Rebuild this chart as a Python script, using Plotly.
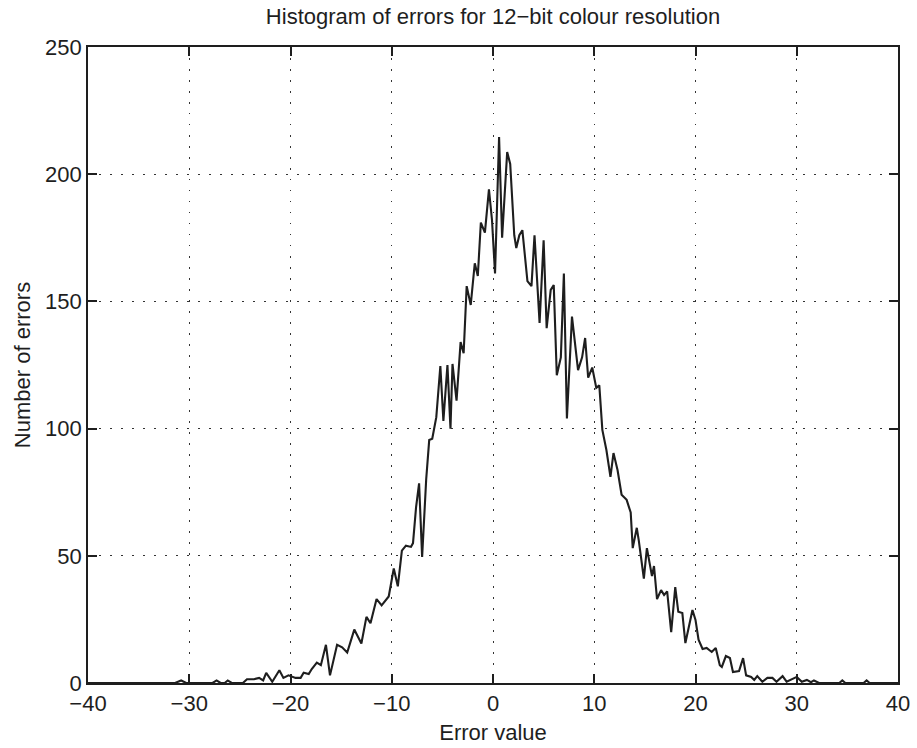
import plotly.graph_objects as go

error_value = [
    -40, -31.4, -30.8, -30.3, -27.7, -27.3, -26.9, -26.5, -26.2, -25.8,
    -24.7, -24.3, -23.6, -23.1, -22.7, -22.4, -21.8, -21.1, -20.7, -20.2,
    -19.5, -19.0, -18.7, -18.2, -17.9, -17.4, -17.0, -16.8, -16.5, -16.1,
    -15.4, -14.9, -14.4, -13.7, -13.0, -12.5, -12.1, -11.5, -11.0, -10.3,
    -9.8, -9.4, -9.0, -8.6, -8.1, -7.9, -7.6, -7.3, -7.0, -6.6,
    -6.3, -6.0, -5.6, -5.2, -4.9, -4.5, -4.2, -4.0, -3.6, -3.2,
    -2.9, -2.6, -2.2, -1.8, -1.5, -1.2, -0.8, -0.4, -0.1, 0.2,
    0.6, 0.9, 1.4, 1.7, 2.1, 2.3, 2.6, 2.9, 3.4, 3.8,
    4.1, 4.6, 5.0, 5.3, 5.7, 6.0, 6.3, 6.7, 7.0, 7.3,
    7.8, 8.4, 8.8, 9.1, 9.4, 9.8, 10.2, 10.5, 10.8, 11.2,
    11.6, 11.9, 12.3, 12.7, 13.2, 13.6, 13.8, 14.2, 14.4, 14.9,
    15.2, 15.7, 15.9, 16.2, 16.6, 16.9, 17.2, 17.6, 18.0, 18.3,
    18.7, 19.0, 19.7, 20.0, 20.3, 20.7, 21.1, 21.6, 22.0, 22.4,
    22.6, 23.0, 23.4, 23.7, 24.3, 24.7, 25.0, 25.5, 25.8, 26.1,
    26.6, 27.1, 27.6, 28.0, 28.6, 29.0, 29.4, 29.9, 30.0, 30.5,
    31.0, 31.4, 31.7, 32.2, 34.2, 34.5, 34.8, 36.6, 36.9, 37.2, 40,
]
num_errors = [
    0, 0, 1, 0, 0, 1, 0, 0, 1, 0,
    0, 1.5, 1.5, 2, 1, 4, 0.5, 5, 2, 3,
    2, 2, 4, 3.5, 5.5, 8, 7, 10, 15, 3,
    15, 14, 12, 21, 15.5, 26, 23.5, 33, 30.5, 34,
    45, 38, 52, 54, 53.5, 55, 69, 78.5, 49.5, 80,
    95.5, 96, 104.5, 124.6, 103, 125, 100, 125.4, 111, 134,
    129.6, 156, 148.6, 165, 160, 181, 177, 194, 182, 161,
    214.6, 175, 208.7, 204, 176, 171, 176, 178, 158, 156,
    176, 141.5, 174, 139.5, 154.5, 156.4, 121, 128, 161, 104,
    144, 123, 128, 135.6, 120, 124, 116, 117, 99.5, 91.6,
    81, 90.4, 83.7, 74, 72, 67, 53, 61, 56, 41,
    53, 42, 46, 33, 36.5, 34.6, 36, 20, 37.7, 28,
    27.5, 15.7, 28.7, 24.8, 17, 13.4, 13.8, 12.2, 13.8, 7,
    6.3, 10.6, 9.8, 4.3, 4.7, 9.8, 3, 2.4, 1.2, 2.7,
    0.5, 2, 2, 0.5, 2.7, 0.5, 1.2, 2, 2.4, 0.5,
    1.2, 0.3, 1, 0, 0, 1, 0, 0, 1, 0, 0,
]

x_ticks = [-40, -30, -20, -10, 0, 10, 20, 30, 40]
y_ticks = [0, 50, 100, 150, 200, 250]

font_family = "Liberation Sans, Arial, Helvetica, sans-serif"
ink = "#1e1e1e"

fig = go.Figure()
fig.add_trace(go.Scatter(
    x=error_value, y=num_errors, mode="lines",
    line=dict(color=ink, width=2.1),
    showlegend=False,
))

axis_common = dict(
    showline=True, linecolor=ink, linewidth=1.6, mirror="ticks",
    ticks="inside", ticklen=9, tickwidth=1.6, tickcolor=ink,
    showgrid=True, gridcolor="#333333", gridwidth=1.4, griddash="1.5px,9.5px",
    zeroline=False, automargin=False,
    tickfont=dict(family=font_family, size=22, color=ink),
)

fig.update_layout(
    width=917, height=748,
    margin=dict(l=88, r=19, t=47, b=65),
    paper_bgcolor="white", plot_bgcolor="white",
    title=dict(
        text="Histogram of errors for 12\u2212bit colour resolution",
        x=(88 + 898) / 2 / 917, xanchor="center", y=1 - 16 / 748, yanchor="middle",
        font=dict(family=font_family, size=22, color=ink),
    ),
    xaxis=dict(
        range=[-40, 40], tickvals=x_ticks, ticktext=[str(v).replace("-", "\u2212") for v in x_ticks],
        title=dict(text="Error value", font=dict(family=font_family, size=22, color=ink), standoff=9),
        **axis_common,
    ),
    yaxis=dict(
        range=[0, 250], tickvals=y_ticks,
        title=dict(text="Number of errors", font=dict(family=font_family, size=22, color=ink), standoff=8),
        **axis_common,
    ),
)

fig.write_html("out.html")
